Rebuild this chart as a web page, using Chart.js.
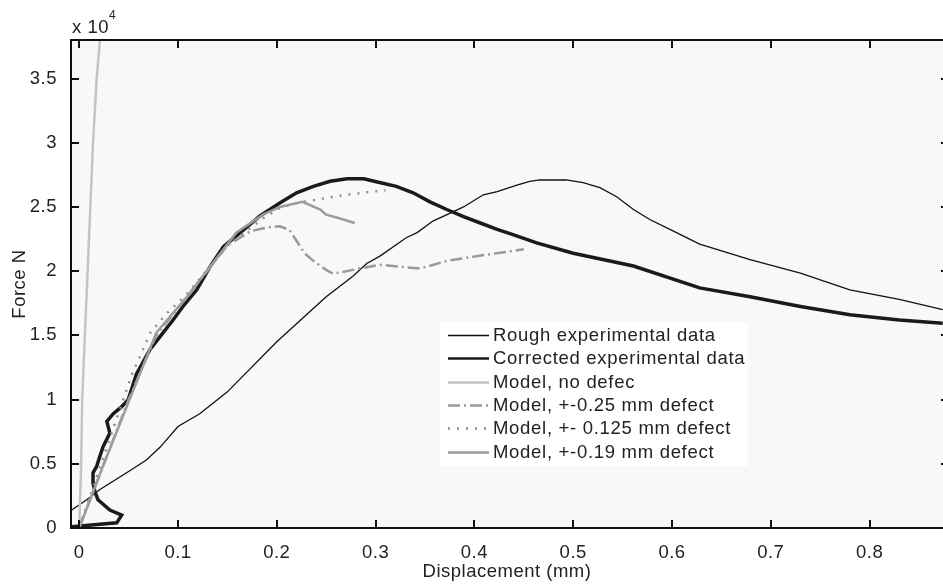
<!DOCTYPE html>
<html><head><meta charset="utf-8">
<script src="https://cdn.jsdelivr.net/npm/chart.js@4/dist/chart.umd.min.js"></script>
<style>html,body{margin:0;padding:0;background:#fff;overflow:hidden}canvas{display:block}</style>
</head><body>
<canvas id="c" width="943" height="586"></canvas>
<script>
// ---- data (Displacement mm, Force N) ----
const seriesLabels = ["Rough experimental data","Corrected experimental data","Model, no defec","Model, +-0.25 mm defect","Model, +- 0.125 mm defect","Model, +-0.19 mm defect"];

const roughX = [-0.0076,0.0076,0.021,0.048,0.068,0.082,0.1,0.122,0.15,0.2,0.25,0.277,0.291,0.304,0.331,0.342,0.358,0.375,0.389,0.409,0.423,0.443,0.456,0.466,0.493,0.51,0.527,0.544,0.561,0.578,0.602,0.628,0.679,0.73,0.78,0.83,0.874];
const roughY = [1400,2200,3000,4300,5300,6300,7900,8900,10600,14500,18000,19600,20600,21150,22600,23000,23900,24500,25000,25950,26200,26700,27000,27100,27100,26900,26500,25800,24800,24000,23100,22100,20900,19850,18550,17800,17000];

const corrX = [-0.0076,0.038,0.043,0.031,0.019,0.016,0.014,0.014,0.0177,0.021,0.024,0.031,0.028,0.0345,0.043,0.0497,0.058,0.0717,0.0818,0.095,0.105,0.119,0.132,0.146,0.163,0.183,0.203,0.22,0.237,0.254,0.271,0.288,0.304,0.321,0.338,0.355,0.372,0.389,0.406,0.423,0.439,0.463,0.5,0.561,0.628,0.679,0.73,0.78,0.83,0.874];
const corrY = [100,400,1000,1400,2200,2800,3500,4300,4800,5600,6300,7400,8300,8900,9450,10000,12000,13900,14900,16200,17250,18550,20300,21900,23000,24300,25300,26100,26600,27000,27200,27200,26900,26600,26100,25400,24800,24250,23750,23250,22850,22200,21400,20400,18700,18000,17250,16600,16200,15950];

const noDefX = [0,0.002,0.003,0.0085,0.014,0.0177,0.021,0.0225];
const noDefY = [0,5000,10000,20000,30000,35000,38000,40000];

const d025X = [0,0.025,0.05,0.078,0.109,0.15,0.173,0.19,0.203,0.213,0.218,0.228,0.237,0.25,0.257,0.277,0.304,0.331,0.345,0.372,0.405,0.45];
const d025Y = [0,5000,10000,15000,18000,22000,23100,23400,23500,23200,22600,21400,20800,20100,19800,20100,20500,20300,20200,20800,21200,21700];

const d0125X = [0,0.02,0.04,0.054,0.0615,0.072,0.0885,0.11,0.15,0.186,0.203,0.22,0.243,0.271,0.291,0.31];
const d0125Y = [0,4500,9000,12100,13350,15200,16700,18300,22000,24100,24900,25300,25600,25960,26140,26300];

const d019X = [0,0.025,0.051,0.078,0.109,0.159,0.186,0.203,0.226,0.244,0.25,0.264,0.279];
const d019Y = [0,5000,10000,15200,18000,23000,24400,25000,25400,24800,24400,24100,23750];

const xTickValues = [0,0.1,0.2,0.3,0.4,0.5,0.6,0.7,0.8];
const xTickLabels = ["0","0.1","0.2","0.3","0.4","0.5","0.6","0.7","0.8"];
const yTickValues = [0,5000,10000,15000,20000,25000,30000,35000];
const yTickLabels = ["0","0.5","1","1.5","2","2.5","3","3.5"];

const xTitle = "Displacement (mm)";
const yTitle = "Force N";

// ---- build ----
const pts = (xs, ys) => xs.map((x, i) => ({x, y: ys[i]}));
const FONT = "'Liberation Sans', Arial, Helvetica, sans-serif";
const TXT = '#222';

const datasets = [
  {label: seriesLabels[0], data: pts(roughX, roughY), borderColor: '#111', borderWidth: 1.3, order: 5},
  {label: seriesLabels[1], data: pts(corrX, corrY), borderColor: '#1a1a1a', borderWidth: 3.5, order: 4},
  {label: seriesLabels[2], data: pts(noDefX, noDefY), borderColor: '#c4c4c4', borderWidth: 2.5, order: 3},
  {label: seriesLabels[3], data: pts(d025X, d025Y), borderColor: '#999', borderWidth: 2.5, borderDash: [12,4,2,4], order: 2},
  {label: seriesLabels[4], data: pts(d0125X, d0125Y), borderColor: '#8e8e8e', borderWidth: 2.5, borderDash: [2,7], order: 1},
  {label: seriesLabels[5], data: pts(d019X, d019Y), borderColor: '#9c9c9c', borderWidth: 2.5, order: 0}
].map(d => Object.assign({pointRadius: 0, fill: false, tension: 0, borderJoinStyle: 'miter'}, d));

const legendBox = {left: 440, top: 322, right: 748, bottom: 466, rowTop: 335, rowStep: 23.3, lineX0: 448, lineX1: 489, textX: 493};

const framePlugin = {
  id: 'frame',
  beforeDraw(chart) {
    const {ctx, chartArea: a} = chart;
    ctx.letterSpacing = '0.5px';
    ctx.save();
    ctx.fillStyle = '#f8f8f8';
    ctx.fillRect(a.left, a.top, a.right - a.left, a.bottom - a.top);
    ctx.restore();
  },
  afterDatasetsDraw(chart) {
    const {ctx, chartArea: a, scales: {x, y}} = chart;
    ctx.save();
    ctx.strokeStyle = '#111';
    ctx.lineWidth = 2;
    ctx.beginPath();
    ctx.moveTo(a.right + 2, a.top); ctx.lineTo(a.left, a.top); ctx.lineTo(a.left, a.bottom); ctx.lineTo(a.right + 2, a.bottom);
    const L = 8;
    x.ticks.forEach(t => {
      const px = Math.round(x.getPixelForValue(t.value));
      ctx.moveTo(px, a.bottom); ctx.lineTo(px, a.bottom - L);
      ctx.moveTo(px, a.top); ctx.lineTo(px, a.top + L);
    });
    y.ticks.forEach(t => {
      const py = Math.round(y.getPixelForValue(t.value));
      ctx.moveTo(a.left, py); ctx.lineTo(a.left + L, py);
      ctx.moveTo(a.right, py); ctx.lineTo(a.right - 2, py);
    });
    ctx.stroke();

    // exponent label
    ctx.fillStyle = TXT;
    ctx.textBaseline = 'alphabetic';
    ctx.textAlign = 'left';
    ctx.letterSpacing = '0.5px';
    ctx.font = '18.5px ' + FONT;
    ctx.fillText('x 10', 72, 33);
    ctx.font = '12px ' + FONT;
    ctx.fillText('4', 109, 19);

    // legend
    const b = legendBox;
    ctx.fillStyle = '#ffffff';
    ctx.fillRect(b.left, b.top, b.right - b.left, b.bottom - b.top);
    ctx.save();
    ctx.beginPath();
    ctx.rect(b.left, b.top, b.right - b.left, b.bottom - b.top);
    ctx.clip();
    chart.data.datasets.forEach((d, i) => {
      const yy = Math.round(b.rowTop + i * b.rowStep) + 0.5;
      ctx.save();
      ctx.strokeStyle = d.borderColor;
      ctx.lineWidth = Math.min(d.borderWidth, 2.5);
      ctx.setLineDash(d.borderDash || []);
      ctx.beginPath();
      ctx.moveTo(b.lineX0, yy); ctx.lineTo(b.lineX1, yy);
      ctx.stroke();
      ctx.restore();
      ctx.fillStyle = TXT;
      ctx.font = '18.5px ' + FONT;
      ctx.letterSpacing = '0.7px';
      ctx.textBaseline = 'middle';
      ctx.fillText(d.label, b.textX, yy);
    });
    ctx.restore();
    ctx.restore();
  }
};

new Chart(document.getElementById('c'), {
  type: 'line',
  data: {datasets},
  options: {
    responsive: false,
    devicePixelRatio: 1,
    animation: false,
    events: [],
    layout: {padding: {top: 40, left: 0, right: 0, bottom: 0}},
    plugins: {legend: {display: false}, tooltip: {enabled: false}},
    scales: {
      x: {
        type: 'linear', min: -0.0083, max: 0.8743,
        afterFit: s => { s.height = 58; },
        afterBuildTicks: s => { s.ticks = xTickValues.map(v => ({value: v})); },
        grid: {display: false},
        border: {display: false},
        ticks: {padding: 6, color: TXT, font: {family: FONT, size: 18.5}, maxRotation: 0, autoSkip: false,
                callback: (v, i) => xTickLabels[i]},
        title: {display: true, text: xTitle, color: TXT, font: {family: FONT, size: 18.5}, padding: {top: 0, bottom: 3}}
      },
      y: {
        type: 'linear', min: 0, max: 38000,
        afterFit: s => { s.width = 71; },
        afterBuildTicks: s => { s.ticks = yTickValues.map(v => ({value: v})); },
        grid: {display: false},
        border: {display: false},
        ticks: {padding: 6, color: TXT, font: {family: FONT, size: 18.5}, autoSkip: false,
                callback: (v, i) => yTickLabels[i]},
        title: {display: true, text: yTitle, color: TXT, font: {family: FONT, size: 18.5}, padding: {top: 9, bottom: 0}}
      }
    }
  },
  plugins: [framePlugin]
});
</script>
</body></html>
